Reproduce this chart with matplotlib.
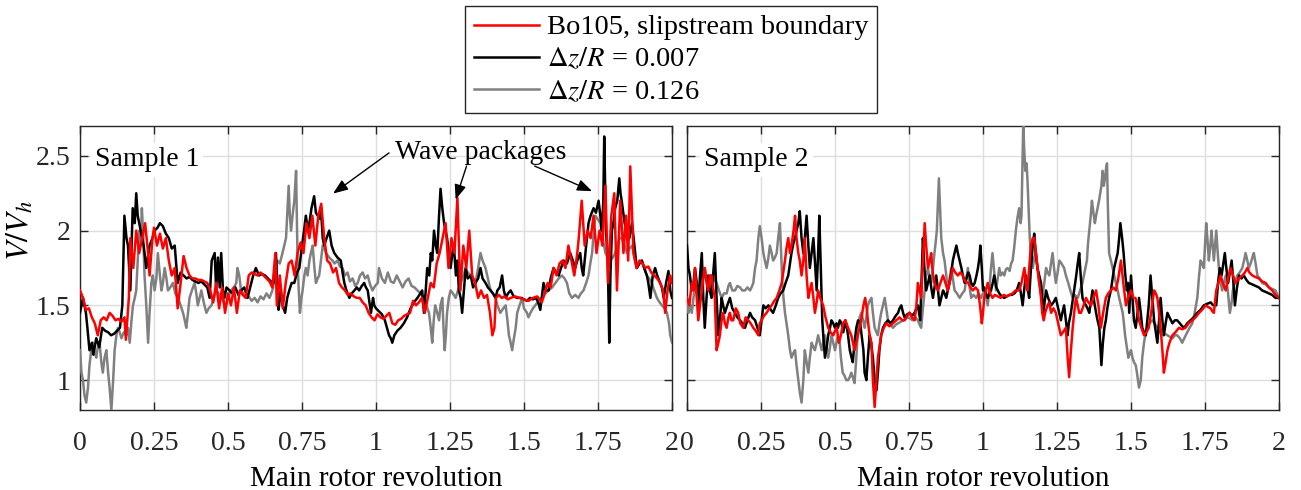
import numpy as np
import matplotlib
matplotlib.use("Agg")
import matplotlib.pyplot as plt

plt.rcParams['font.family'] = ['Liberation Serif', 'DejaVu Serif']
plt.rcParams['mathtext.fontset'] = 'stix'

# ---------------- data: (revolution, V/Vh) ----------------
s1_red = [(0,1.60),(0.01,1.55),(0.02,1.47),(0.03,1.48),(0.04,1.42),(0.05,1.38),(0.06,1.30),(0.07,1.40),(0.08,1.42),(0.09,1.40),(0.10,1.45),(0.11,1.43),(0.12,1.40),(0.13,1.41),(0.14,1.39),(0.15,1.42),(0.155,1.27),(0.165,1.55),(0.17,1.95),(0.18,1.75),(0.19,2.00),(0.20,1.85),(0.21,1.95),(0.22,2.05),(0.23,1.85),(0.235,1.70),(0.245,1.95),(0.25,2.02),(0.26,1.90),(0.27,1.98),(0.28,1.88),(0.29,1.95),(0.30,1.80),(0.31,1.70),(0.32,1.75),(0.33,1.48),(0.34,1.65),(0.35,1.83),(0.36,1.75),(0.37,1.70),(0.38,1.68),(0.39,1.68),(0.40,1.67),(0.41,1.67),(0.42,1.66),(0.43,1.65),(0.44,1.60),(0.45,1.52),(0.46,1.65),(0.47,1.48),(0.48,1.62),(0.49,1.45),(0.50,1.58),(0.51,1.50),(0.52,1.62),(0.53,1.45),(0.54,1.60),(0.55,1.57),(0.56,1.55),(0.57,1.70),(0.58,1.72),(0.59,1.71),(0.60,1.70),(0.61,1.72),(0.62,1.70),(0.63,1.68),(0.64,1.66),(0.65,1.62),(0.66,1.85),(0.665,1.50),(0.675,1.70),(0.685,1.48),(0.695,1.65),(0.705,1.78),(0.715,1.80),(0.725,1.70),(0.735,1.85),(0.745,1.92),(0.755,1.85),(0.765,2.05),(0.775,1.95),(0.785,2.10),(0.795,1.90),(0.805,2.10),(0.815,2.18),(0.825,1.95),(0.835,1.80),(0.845,1.78),(0.855,1.72),(0.865,1.75),(0.875,1.65),(0.885,1.62),(0.895,1.60),(0.905,1.57),(0.915,1.58),(0.925,1.56),(0.935,1.55),(0.945,1.55),(0.955,1.52),(0.965,1.50),(0.975,1.45),(0.985,1.42),(0.995,1.40),(1.005,1.44),(1.015,1.42),(1.025,1.41),(1.035,1.43),(1.045,1.45),(1.055,1.38),(1.065,1.37),(1.075,1.40),(1.085,1.41),(1.095,1.43),(1.105,1.44),(1.115,1.45),(1.125,1.53),(1.135,1.50),(1.145,1.52),(1.155,1.55),(1.165,1.45),(1.175,1.55),(1.185,1.65),(1.195,1.62),(1.205,1.78),(1.215,1.85),(1.225,1.95),(1.235,2.05),(1.245,1.75),(1.255,1.95),(1.265,1.85),(1.275,2.22),(1.285,1.60),(1.295,1.90),(1.305,1.75),(1.315,2.00),(1.325,1.70),(1.335,1.65),(1.345,1.55),(1.355,1.60),(1.365,1.55),(1.375,1.57),(1.385,1.45),(1.393,1.30),(1.40,1.35),(1.405,1.55),(1.415,1.57),(1.425,1.55),(1.435,1.56),(1.445,1.54),(1.455,1.55),(1.47,1.56),(1.485,1.55),(1.50,1.54),(1.515,1.53),(1.53,1.55),(1.545,1.56),(1.56,1.52),(1.57,1.58),(1.58,1.65),(1.59,1.62),(1.60,1.75),(1.61,1.70),(1.62,1.78),(1.63,1.80),(1.64,1.75),(1.65,1.90),(1.66,1.80),(1.67,1.70),(1.68,1.85),(1.685,1.95),(1.695,2.20),(1.705,1.90),(1.715,2.00),(1.725,1.95),(1.735,2.10),(1.745,1.85),(1.755,2.00),(1.765,1.90),(1.775,2.30),(1.784,1.65),(1.795,2.10),(1.805,2.25),(1.814,1.60),(1.825,2.20),(1.836,1.85),(1.845,2.10),(1.852,1.80),(1.859,2.43),(1.87,1.85),(1.88,1.75),(1.89,1.80),(1.90,1.78),(1.91,1.75),(1.92,1.76),(1.93,1.72),(1.94,1.70),(1.95,1.68),(1.96,1.65),(1.97,1.60),(1.977,1.45),(1.985,1.60),(1.994,1.70),(2.00,1.65)]

s1_black = [(0,1.45),(0.01,1.55),(0.02,1.45),(0.025,1.35),(0.032,1.20),(0.04,1.25),(0.045,1.17),(0.055,1.28),(0.065,1.22),(0.075,1.35),(0.085,1.33),(0.095,1.32),(0.105,1.30),(0.115,1.31),(0.125,1.33),(0.135,1.35),(0.143,1.50),(0.15,2.10),(0.157,1.95),(0.162,1.90),(0.17,1.60),(0.178,2.15),(0.185,2.05),(0.19,2.25),(0.195,2.10),(0.20,2.05),(0.21,1.95),(0.215,1.90),(0.224,1.75),(0.235,1.90),(0.245,1.95),(0.252,2.00),(0.262,2.02),(0.27,2.05),(0.28,2.03),(0.29,1.98),(0.30,1.95),(0.31,1.88),(0.32,1.90),(0.33,1.65),(0.34,1.72),(0.35,1.70),(0.36,1.68),(0.37,1.69),(0.38,1.67),(0.39,1.66),(0.40,1.65),(0.41,1.66),(0.42,1.64),(0.43,1.62),(0.438,1.55),(0.445,1.80),(0.455,1.85),(0.46,1.60),(0.466,1.82),(0.472,1.62),(0.477,1.85),(0.483,1.60),(0.488,1.55),(0.495,1.62),(0.505,1.60),(0.515,1.58),(0.525,1.62),(0.535,1.57),(0.545,1.60),(0.555,1.62),(0.566,1.55),(0.575,1.62),(0.585,1.70),(0.594,1.75),(0.605,1.70),(0.615,1.71),(0.625,1.70),(0.635,1.68),(0.645,1.66),(0.655,1.65),(0.662,1.85),(0.668,1.55),(0.671,1.47),(0.678,1.60),(0.685,1.50),(0.693,1.45),(0.70,1.55),(0.707,1.60),(0.715,1.65),(0.724,1.65),(0.733,1.72),(0.741,1.75),(0.75,1.90),(0.757,2.00),(0.763,2.10),(0.77,2.00),(0.775,2.05),(0.782,2.15),(0.791,2.23),(0.797,2.12),(0.803,2.10),(0.81,2.08),(0.814,2.15),(0.82,1.95),(0.825,1.90),(0.833,1.95),(0.842,2.00),(0.85,1.90),(0.859,1.85),(0.87,1.82),(0.881,1.80),(0.887,1.72),(0.893,1.65),(0.90,1.60),(0.91,1.55),(0.918,1.58),(0.927,1.60),(0.935,1.62),(0.943,1.60),(0.952,1.63),(0.96,1.65),(0.966,1.62),(0.972,1.60),(0.978,1.52),(0.983,1.45),(0.99,1.55),(0.994,1.50),(1.00,1.48),(1.01,1.46),(1.02,1.44),(1.03,1.40),(1.037,1.35),(1.044,1.30),(1.05,1.28),(1.055,1.25),(1.062,1.30),(1.072,1.33),(1.083,1.35),(1.094,1.38),(1.105,1.42),(1.117,1.48),(1.128,1.52),(1.14,1.55),(1.15,1.58),(1.156,1.60),(1.162,1.45),(1.168,1.60),(1.173,1.75),(1.18,1.70),(1.185,1.85),(1.19,1.80),(1.196,2.00),(1.202,1.90),(1.207,1.85),(1.213,2.10),(1.218,2.28),(1.224,2.15),(1.23,2.05),(1.235,2.00),(1.24,1.95),(1.246,1.85),(1.252,1.75),(1.258,1.85),(1.263,1.90),(1.27,1.70),(1.275,1.80),(1.28,1.60),(1.286,1.55),(1.291,1.45),(1.297,1.60),(1.303,1.75),(1.31,1.68),(1.32,1.70),(1.328,1.62),(1.336,1.65),(1.345,1.68),(1.353,1.75),(1.36,1.68),(1.37,1.65),(1.378,1.62),(1.387,1.60),(1.395,1.58),(1.404,1.55),(1.41,1.60),(1.418,1.62),(1.426,1.70),(1.432,1.60),(1.438,1.55),(1.446,1.58),(1.455,1.60),(1.465,1.56),(1.477,1.55),(1.49,1.55),(1.50,1.54),(1.51,1.53),(1.52,1.55),(1.53,1.54),(1.54,1.55),(1.548,1.52),(1.555,1.47),(1.56,1.55),(1.566,1.65),(1.573,1.60),(1.583,1.60),(1.59,1.68),(1.60,1.75),(1.608,1.72),(1.617,1.70),(1.625,1.75),(1.634,1.80),(1.645,1.78),(1.656,1.85),(1.665,1.80),(1.673,1.75),(1.68,1.80),(1.69,1.85),(1.695,1.75),(1.70,1.70),(1.71,1.90),(1.718,2.05),(1.725,2.10),(1.735,2.15),(1.743,2.12),(1.752,2.20),(1.758,2.10),(1.763,2.00),(1.768,2.20),(1.771,2.63),(1.774,2.30),(1.777,2.00),(1.783,1.80),(1.788,1.25),(1.792,1.70),(1.797,2.00),(1.802,2.05),(1.808,2.15),(1.815,2.20),(1.822,2.35),(1.826,2.25),(1.83,2.20),(1.84,2.05),(1.848,2.00),(1.856,1.95),(1.865,2.05),(1.873,1.90),(1.881,1.75),(1.89,1.78),(1.898,1.80),(1.906,1.75),(1.915,1.70),(1.92,1.65),(1.927,1.55),(1.935,1.70),(1.943,1.75),(1.95,1.70),(1.96,1.65),(1.966,1.62),(1.972,1.55),(1.98,1.65),(1.988,1.73),(1.994,1.60),(2.00,1.55)]

s1_gray = [(0,1.20),(0.005,1.05),(0.01,1.00),(0.015,0.90),(0.021,0.85),(0.027,0.95),(0.032,1.10),(0.038,1.20),(0.044,1.25),(0.05,1.18),(0.055,1.15),(0.06,1.22),(0.066,1.25),(0.072,1.12),(0.077,1.05),(0.083,1.15),(0.089,1.20),(0.095,1.05),(0.10,0.95),(0.106,0.80),(0.112,1.00),(0.117,1.20),(0.123,1.30),(0.128,1.35),(0.134,1.32),(0.14,1.28),(0.148,1.32),(0.156,1.30),(0.162,1.35),(0.168,1.25),(0.174,1.40),(0.179,1.50),(0.185,1.55),(0.19,1.60),(0.195,1.80),(0.20,2.00),(0.205,1.90),(0.209,2.15),(0.214,1.95),(0.218,1.70),(0.224,1.50),(0.23,1.25),(0.235,1.45),(0.241,1.65),(0.246,1.70),(0.252,1.60),(0.258,1.68),(0.263,1.85),(0.269,1.72),(0.275,1.60),(0.28,1.65),(0.286,1.75),(0.292,1.68),(0.297,1.60),(0.305,1.62),(0.314,1.65),(0.322,1.58),(0.331,1.55),(0.34,1.50),(0.348,1.45),(0.354,1.40),(0.359,1.35),(0.365,1.45),(0.37,1.55),(0.378,1.60),(0.387,1.65),(0.393,1.58),(0.398,1.50),(0.404,1.55),(0.41,1.60),(0.418,1.52),(0.427,1.45),(0.435,1.48),(0.444,1.50),(0.452,1.55),(0.46,1.60),(0.468,1.58),(0.477,1.55),(0.485,1.52),(0.494,1.50),(0.50,1.55),(0.51,1.60),(0.52,1.62),(0.528,1.65),(0.532,1.75),(0.538,1.70),(0.544,1.60),(0.552,1.58),(0.56,1.55),(0.57,1.56),(0.58,1.53),(0.59,1.55),(0.60,1.52),(0.61,1.56),(0.62,1.54),(0.63,1.58),(0.64,1.55),(0.65,1.60),(0.658,1.70),(0.667,1.80),(0.675,1.78),(0.684,1.85),(0.69,1.90),(0.696,1.95),(0.70,2.10),(0.705,2.30),(0.709,2.10),(0.713,2.00),(0.718,2.10),(0.724,2.20),(0.73,2.40),(0.735,1.80),(0.739,1.60),(0.743,1.45),(0.748,1.55),(0.752,1.60),(0.758,1.70),(0.763,1.75),(0.769,1.70),(0.775,1.80),(0.78,1.85),(0.786,1.90),(0.792,1.75),(0.797,1.65),(0.803,1.68),(0.808,1.70),(0.814,1.80),(0.82,1.90),(0.826,1.88),(0.831,1.85),(0.842,1.82),(0.853,1.80),(0.86,1.78),(0.87,1.80),(0.878,1.76),(0.887,1.75),(0.895,1.70),(0.904,1.72),(0.912,1.66),(0.921,1.68),(0.93,1.63),(0.938,1.65),(0.946,1.70),(0.955,1.72),(0.963,1.68),(0.972,1.70),(0.98,1.64),(0.988,1.60),(0.997,1.63),(1.006,1.65),(1.01,1.75),(1.02,1.68),(1.03,1.65),(1.04,1.72),(1.05,1.66),(1.06,1.65),(1.07,1.70),(1.08,1.66),(1.09,1.62),(1.10,1.66),(1.11,1.68),(1.12,1.63),(1.13,1.62),(1.14,1.60),(1.15,1.58),(1.162,1.55),(1.17,1.50),(1.179,1.45),(1.185,1.35),(1.19,1.25),(1.195,1.40),(1.20,1.50),(1.207,1.45),(1.213,1.40),(1.218,1.50),(1.224,1.55),(1.228,1.35),(1.232,1.20),(1.236,1.30),(1.24,1.45),(1.246,1.55),(1.252,1.60),(1.26,1.58),(1.269,1.55),(1.277,1.60),(1.286,1.65),(1.295,1.70),(1.303,1.75),(1.31,1.72),(1.32,1.70),(1.328,1.68),(1.336,1.65),(1.345,1.75),(1.353,1.85),(1.36,1.80),(1.37,1.75),(1.378,1.68),(1.387,1.60),(1.395,1.58),(1.404,1.55),(1.41,1.50),(1.42,1.45),(1.43,1.48),(1.438,1.50),(1.444,1.40),(1.449,1.30),(1.455,1.25),(1.46,1.20),(1.466,1.28),(1.472,1.35),(1.477,1.45),(1.485,1.50),(1.494,1.55),(1.50,1.48),(1.51,1.45),(1.515,1.42),(1.522,1.45),(1.53,1.48),(1.538,1.50),(1.55,1.53),(1.56,1.55),(1.572,1.58),(1.583,1.60),(1.595,1.62),(1.606,1.65),(1.617,1.68),(1.628,1.70),(1.637,1.68),(1.645,1.65),(1.653,1.58),(1.662,1.55),(1.673,1.57),(1.684,1.55),(1.692,1.58),(1.701,1.60),(1.71,1.65),(1.718,1.70),(1.724,1.78),(1.73,1.85),(1.736,2.00),(1.741,2.10),(1.748,2.08),(1.758,2.05),(1.766,1.95),(1.775,1.85),(1.783,1.82),(1.791,1.80),(1.80,1.82),(1.808,1.85),(1.815,1.90),(1.822,1.95),(1.83,1.95),(1.84,1.90),(1.848,1.85),(1.856,1.88),(1.865,1.90),(1.873,1.82),(1.881,1.75),(1.89,1.78),(1.898,1.80),(1.906,1.75),(1.915,1.70),(1.923,1.68),(1.932,1.65),(1.94,1.60),(1.949,1.55),(1.958,1.52),(1.966,1.50),(1.975,1.48),(1.983,1.45),(1.99,1.38),(1.994,1.30),(2.00,1.25)]

s2_red = [(0,1.55),(0.008,1.50),(0.016,1.65),(0.022,1.60),(0.027,1.75),(0.033,1.55),(0.038,1.40),(0.044,1.50),(0.05,1.60),(0.055,1.68),(0.06,1.75),(0.066,1.65),(0.072,1.60),(0.077,1.70),(0.083,1.70),(0.088,1.62),(0.094,1.55),(0.10,1.20),(0.106,1.25),(0.111,1.30),(0.117,1.40),(0.122,1.45),(0.128,1.38),(0.134,1.35),(0.14,1.42),(0.145,1.45),(0.15,1.40),(0.156,1.40),(0.165,1.48),(0.173,1.45),(0.18,1.38),(0.19,1.35),(0.198,1.42),(0.207,1.40),(0.215,1.38),(0.224,1.35),(0.232,1.33),(0.241,1.30),(0.246,1.38),(0.252,1.40),(0.26,1.43),(0.269,1.45),(0.278,1.48),(0.286,1.50),(0.295,1.53),(0.303,1.55),(0.312,1.60),(0.32,1.65),(0.325,1.72),(0.331,1.80),(0.336,1.88),(0.342,1.95),(0.348,1.85),(0.353,1.90),(0.36,2.00),(0.365,2.10),(0.37,1.95),(0.376,1.85),(0.381,1.80),(0.387,1.70),(0.393,1.80),(0.398,1.95),(0.404,1.70),(0.41,1.55),(0.415,1.60),(0.421,1.65),(0.427,1.55),(0.432,1.45),(0.438,1.52),(0.443,1.60),(0.45,1.55),(0.46,1.50),(0.468,1.42),(0.477,1.35),(0.485,1.32),(0.494,1.30),(0.50,1.33),(0.506,1.35),(0.513,1.25),(0.52,1.30),(0.527,1.38),(0.535,1.40),(0.544,1.35),(0.555,1.30),(0.566,1.20),(0.575,1.28),(0.583,1.35),(0.59,1.42),(0.596,1.50),(0.602,1.55),(0.607,1.48),(0.611,1.40),(0.617,1.30),(0.623,1.25),(0.628,1.00),(0.634,0.82),(0.64,1.00),(0.645,1.15),(0.65,1.22),(0.656,1.30),(0.665,1.35),(0.673,1.38),(0.684,1.36),(0.696,1.38),(0.707,1.40),(0.718,1.42),(0.727,1.40),(0.735,1.40),(0.744,1.43),(0.752,1.45),(0.76,1.42),(0.769,1.40),(0.775,1.50),(0.78,1.65),(0.786,1.60),(0.791,1.55),(0.797,1.80),(0.803,2.05),(0.808,1.90),(0.814,1.75),(0.82,1.80),(0.825,1.85),(0.83,1.72),(0.836,1.65),(0.842,1.62),(0.848,1.60),(0.856,1.65),(0.865,1.70),(0.873,1.65),(0.881,1.60),(0.89,1.68),(0.898,1.75),(0.906,1.72),(0.915,1.70),(0.923,1.72),(0.932,1.70),(0.94,1.66),(0.95,1.65),(0.958,1.62),(0.966,1.60),(0.975,1.62),(0.983,1.60),(0.99,1.50),(0.996,1.38),(1.00,1.45),(1.004,1.55),(1.01,1.60),(1.016,1.65),(1.024,1.58),(1.032,1.55),(1.04,1.57),(1.05,1.56),(1.06,1.55),(1.07,1.57),(1.08,1.56),(1.09,1.57),(1.10,1.58),(1.11,1.60),(1.122,1.60),(1.13,1.65),(1.14,1.75),(1.145,1.65),(1.15,1.60),(1.156,1.75),(1.162,1.90),(1.168,1.95),(1.173,1.95),(1.179,1.85),(1.184,1.75),(1.19,1.65),(1.196,1.55),(1.20,1.45),(1.205,1.40),(1.21,1.45),(1.218,1.50),(1.224,1.52),(1.23,1.45),(1.238,1.48),(1.246,1.45),(1.254,1.38),(1.263,1.30),(1.27,1.32),(1.28,1.35),(1.286,1.15),(1.291,1.02),(1.297,1.20),(1.303,1.35),(1.308,1.45),(1.314,1.55),(1.32,1.50),(1.325,1.45),(1.331,1.45),(1.34,1.50),(1.348,1.55),(1.356,1.52),(1.365,1.50),(1.373,1.55),(1.382,1.60),(1.39,1.50),(1.398,1.35),(1.406,1.45),(1.415,1.55),(1.423,1.58),(1.432,1.60),(1.44,1.62),(1.449,1.60),(1.457,1.68),(1.466,1.80),(1.474,1.65),(1.483,1.50),(1.49,1.55),(1.50,1.60),(1.508,1.55),(1.515,1.55),(1.52,1.50),(1.527,1.40),(1.535,1.35),(1.544,1.30),(1.552,1.32),(1.56,1.35),(1.568,1.45),(1.578,1.60),(1.584,1.58),(1.589,1.55),(1.595,1.45),(1.60,1.35),(1.606,1.20),(1.611,1.05),(1.617,1.12),(1.623,1.20),(1.63,1.25),(1.64,1.30),(1.65,1.32),(1.662,1.35),(1.673,1.34),(1.684,1.35),(1.695,1.38),(1.707,1.40),(1.718,1.42),(1.73,1.45),(1.74,1.47),(1.752,1.50),(1.76,1.49),(1.769,1.48),(1.775,1.46),(1.78,1.45),(1.788,1.60),(1.795,1.65),(1.803,1.70),(1.81,1.65),(1.82,1.60),(1.828,1.68),(1.836,1.75),(1.845,1.70),(1.853,1.65),(1.865,1.68),(1.876,1.70),(1.885,1.72),(1.893,1.75),(1.90,1.72),(1.91,1.70),(1.92,1.69),(1.932,1.68),(1.943,1.66),(1.955,1.65),(1.966,1.62),(1.977,1.60),(1.988,1.57),(2.00,1.55)]

s2_black = [(0,1.90),(0.005,1.75),(0.01,1.70),(0.016,1.60),(0.022,1.65),(0.027,1.75),(0.033,1.65),(0.038,1.50),(0.044,1.70),(0.05,1.85),(0.055,1.55),(0.06,1.35),(0.066,1.55),(0.072,1.70),(0.077,1.60),(0.083,1.55),(0.088,1.70),(0.094,1.85),(0.10,1.55),(0.106,1.30),(0.111,1.40),(0.117,1.55),(0.122,1.50),(0.128,1.45),(0.136,1.50),(0.145,1.55),(0.153,1.48),(0.162,1.45),(0.17,1.42),(0.179,1.40),(0.187,1.38),(0.196,1.35),(0.204,1.40),(0.213,1.45),(0.22,1.42),(0.23,1.40),(0.238,1.35),(0.246,1.30),(0.252,1.40),(0.258,1.50),(0.266,1.48),(0.275,1.50),(0.283,1.47),(0.291,1.45),(0.3,1.50),(0.308,1.55),(0.316,1.58),(0.325,1.60),(0.333,1.65),(0.342,1.70),(0.348,1.78),(0.353,1.85),(0.36,1.92),(0.365,1.95),(0.37,2.00),(0.376,2.05),(0.381,2.13),(0.387,1.95),(0.393,1.85),(0.398,1.95),(0.404,2.10),(0.41,1.90),(0.415,1.75),(0.421,1.85),(0.427,1.95),(0.432,1.80),(0.438,1.60),(0.443,1.85),(0.447,2.10),(0.452,1.75),(0.457,1.40),(0.462,1.25),(0.466,1.15),(0.472,1.22),(0.477,1.30),(0.483,1.35),(0.488,1.40),(0.494,1.38),(0.50,1.35),(0.505,1.38),(0.51,1.35),(0.516,1.40),(0.522,1.38),(0.528,1.32),(0.535,1.40),(0.54,1.35),(0.544,1.30),(0.55,1.20),(0.556,1.15),(0.56,1.12),(0.566,1.25),(0.572,1.35),(0.578,1.40),(0.585,1.38),(0.59,1.30),(0.596,1.20),(0.60,1.05),(0.606,1.00),(0.611,1.15),(0.617,1.30),(0.622,1.25),(0.628,1.15),(0.634,1.00),(0.64,0.93),(0.645,1.05),(0.65,1.20),(0.656,1.30),(0.662,1.35),(0.67,1.38),(0.679,1.40),(0.688,1.38),(0.696,1.40),(0.705,1.43),(0.713,1.45),(0.718,1.48),(0.724,1.50),(0.73,1.45),(0.735,1.42),(0.744,1.44),(0.752,1.45),(0.76,1.43),(0.769,1.45),(0.775,1.48),(0.78,1.50),(0.784,1.45),(0.788,1.40),(0.793,1.70),(0.797,1.95),(0.802,1.75),(0.808,1.60),(0.814,1.65),(0.82,1.70),(0.825,1.62),(0.831,1.55),(0.836,1.62),(0.842,1.70),(0.848,1.60),(0.853,1.50),(0.859,1.55),(0.865,1.60),(0.87,1.58),(0.876,1.55),(0.881,1.60),(0.887,1.65),(0.893,1.72),(0.898,1.80),(0.904,1.85),(0.91,1.90),(0.915,1.85),(0.921,1.80),(0.927,1.75),(0.932,1.70),(0.938,1.65),(0.944,1.68),(0.95,1.72),(0.955,1.70),(0.96,1.65),(0.966,1.63),(0.972,1.65),(0.978,1.70),(0.983,1.75),(0.988,1.82),(0.991,1.90),(0.996,1.75),(1.00,1.60),(1.004,1.62),(1.01,1.58),(1.016,1.55),(1.022,1.58),(1.027,1.60),(1.033,1.65),(1.038,1.70),(1.045,1.62),(1.055,1.58),(1.063,1.56),(1.072,1.55),(1.08,1.56),(1.089,1.57),(1.097,1.57),(1.106,1.58),(1.114,1.60),(1.122,1.65),(1.128,1.58),(1.134,1.50),(1.14,1.62),(1.145,1.70),(1.15,1.62),(1.156,1.55),(1.162,1.75),(1.168,1.90),(1.173,1.98),(1.178,1.85),(1.184,1.75),(1.19,1.70),(1.196,1.65),(1.2,1.55),(1.204,1.45),(1.208,1.52),(1.213,1.60),(1.22,1.55),(1.23,1.50),(1.238,1.52),(1.246,1.55),(1.254,1.48),(1.263,1.40),(1.268,1.45),(1.274,1.50),(1.28,1.40),(1.286,1.30),(1.29,1.38),(1.297,1.45),(1.302,1.52),(1.308,1.60),(1.315,1.70),(1.32,1.78),(1.325,1.85),(1.33,1.70),(1.336,1.55),(1.342,1.52),(1.348,1.50),(1.353,1.48),(1.359,1.45),(1.364,1.52),(1.37,1.60),(1.376,1.52),(1.382,1.45),(1.387,1.40),(1.393,1.35),(1.397,1.20),(1.40,1.10),(1.405,1.25),(1.41,1.35),(1.415,1.40),(1.42,1.48),(1.426,1.55),(1.432,1.60),(1.438,1.68),(1.443,1.75),(1.449,1.80),(1.455,1.85),(1.46,1.95),(1.464,2.05),(1.47,1.95),(1.475,1.85),(1.48,1.72),(1.486,1.60),(1.49,1.65),(1.494,1.45),(1.50,1.70),(1.505,1.55),(1.51,1.40),(1.516,1.35),(1.522,1.45),(1.527,1.55),(1.533,1.45),(1.538,1.35),(1.544,1.32),(1.55,1.30),(1.555,1.40),(1.56,1.50),(1.566,1.70),(1.572,1.55),(1.578,1.40),(1.584,1.32),(1.589,1.25),(1.595,1.40),(1.60,1.55),(1.606,1.40),(1.611,1.30),(1.617,1.38),(1.623,1.45),(1.63,1.42),(1.64,1.38),(1.648,1.40),(1.656,1.40),(1.665,1.38),(1.673,1.36),(1.68,1.35),(1.69,1.38),(1.701,1.40),(1.712,1.42),(1.724,1.45),(1.735,1.47),(1.746,1.50),(1.757,1.51),(1.769,1.52),(1.778,1.50),(1.788,1.50),(1.794,1.65),(1.80,1.75),(1.806,1.70),(1.812,1.78),(1.817,1.85),(1.822,1.75),(1.828,1.65),(1.834,1.72),(1.84,1.80),(1.846,1.65),(1.851,1.50),(1.858,1.62),(1.865,1.70),(1.873,1.68),(1.881,1.70),(1.89,1.67),(1.898,1.65),(1.91,1.64),(1.921,1.63),(1.932,1.62),(1.943,1.60),(1.955,1.59),(1.966,1.58),(1.977,1.57),(1.988,1.55),(2.00,1.55)]

s2_gray = [(0,1.55),(0.005,1.45),(0.01,1.50),(0.016,1.45),(0.022,1.55),(0.027,1.65),(0.033,1.58),(0.038,1.50),(0.044,1.62),(0.05,1.70),(0.055,1.72),(0.06,1.75),(0.066,1.68),(0.072,1.60),(0.077,1.65),(0.083,1.70),(0.09,1.68),(0.10,1.65),(0.108,1.60),(0.117,1.55),(0.125,1.58),(0.134,1.58),(0.14,1.63),(0.145,1.65),(0.153,1.60),(0.162,1.60),(0.17,1.63),(0.179,1.62),(0.187,1.60),(0.196,1.60),(0.204,1.62),(0.213,1.60),(0.218,1.62),(0.224,1.65),(0.23,1.75),(0.235,1.80),(0.241,1.95),(0.246,2.03),(0.252,1.95),(0.258,1.85),(0.263,1.80),(0.269,1.75),(0.275,1.82),(0.28,1.90),(0.286,1.85),(0.291,1.80),(0.297,1.82),(0.303,1.85),(0.308,1.95),(0.314,2.05),(0.318,1.85),(0.322,1.65),(0.326,1.55),(0.331,1.45),(0.336,1.38),(0.342,1.30),(0.348,1.20),(0.353,1.15),(0.359,1.18),(0.365,1.20),(0.37,1.10),(0.376,1.00),(0.381,0.92),(0.387,0.85),(0.393,1.00),(0.398,1.20),(0.404,1.12),(0.41,1.05),(0.415,1.15),(0.421,1.25),(0.427,1.22),(0.432,1.20),(0.438,1.25),(0.443,1.30),(0.449,1.25),(0.455,1.20),(0.46,1.25),(0.466,1.30),(0.472,1.22),(0.477,1.15),(0.483,1.22),(0.488,1.30),(0.494,1.25),(0.50,1.20),(0.505,1.25),(0.51,1.30),(0.516,1.25),(0.52,1.15),(0.526,1.05),(0.532,1.03),(0.538,1.00),(0.544,1.00),(0.55,1.02),(0.555,1.05),(0.56,1.02),(0.566,0.98),(0.572,1.15),(0.578,1.35),(0.583,1.42),(0.589,1.45),(0.595,1.40),(0.60,1.35),(0.606,1.42),(0.611,1.50),(0.617,1.53),(0.623,1.55),(0.628,1.45),(0.634,1.35),(0.64,1.32),(0.645,1.30),(0.65,1.38),(0.656,1.45),(0.662,1.50),(0.668,1.55),(0.673,1.48),(0.679,1.40),(0.688,1.37),(0.696,1.35),(0.705,1.37),(0.713,1.38),(0.722,1.39),(0.73,1.40),(0.738,1.41),(0.746,1.42),(0.755,1.41),(0.763,1.40),(0.772,1.42),(0.78,1.40),(0.786,1.37),(0.791,1.35),(0.797,1.48),(0.803,1.60),(0.808,1.70),(0.814,1.75),(0.82,1.68),(0.825,1.65),(0.831,1.75),(0.836,1.85),(0.84,1.92),(0.844,2.00),(0.848,2.20),(0.851,2.35),(0.855,2.15),(0.859,1.95),(0.865,1.85),(0.87,1.80),(0.876,1.70),(0.881,1.60),(0.887,1.68),(0.893,1.75),(0.898,1.68),(0.904,1.60),(0.912,1.58),(0.921,1.55),(0.93,1.58),(0.938,1.60),(0.944,1.68),(0.949,1.75),(0.955,1.62),(0.96,1.55),(0.968,1.57),(0.977,1.55),(0.985,1.58),(0.994,1.55),(1.00,1.58),(1.006,1.60),(1.011,1.55),(1.016,1.50),(1.022,1.62),(1.027,1.75),(1.032,1.85),(1.038,1.72),(1.044,1.60),(1.05,1.68),(1.055,1.75),(1.06,1.70),(1.066,1.72),(1.072,1.70),(1.077,1.74),(1.083,1.75),(1.09,1.73),(1.095,1.78),(1.10,1.80),(1.105,1.88),(1.111,2.00),(1.116,2.08),(1.122,2.15),(1.127,2.05),(1.13,2.10),(1.133,2.40),(1.136,2.72),(1.139,2.55),(1.143,2.40),(1.147,2.45),(1.15,2.35),(1.154,2.15),(1.158,1.95),(1.163,1.80),(1.168,1.75),(1.173,1.82),(1.179,1.85),(1.184,1.75),(1.19,1.65),(1.195,1.60),(1.20,1.55),(1.207,1.65),(1.213,1.75),(1.218,1.72),(1.224,1.70),(1.23,1.78),(1.235,1.85),(1.24,1.75),(1.246,1.65),(1.252,1.72),(1.258,1.80),(1.265,1.78),(1.274,1.75),(1.28,1.70),(1.288,1.65),(1.295,1.60),(1.303,1.55),(1.31,1.57),(1.32,1.55),(1.328,1.60),(1.336,1.65),(1.343,1.72),(1.351,1.80),(1.355,1.92),(1.359,2.00),(1.364,2.10),(1.368,2.20),(1.373,2.12),(1.378,2.05),(1.382,2.10),(1.387,2.15),(1.392,2.20),(1.396,2.25),(1.40,2.30),(1.404,2.40),(1.408,2.30),(1.412,2.35),(1.416,2.42),(1.419,2.45),(1.422,2.15),(1.426,1.85),(1.432,1.80),(1.438,1.75),(1.443,1.70),(1.449,1.65),(1.455,1.60),(1.46,1.55),(1.466,1.50),(1.472,1.45),(1.476,1.38),(1.48,1.30),(1.486,1.22),(1.491,1.15),(1.496,1.18),(1.50,1.20),(1.505,1.15),(1.51,1.12),(1.516,1.10),(1.52,1.05),(1.527,0.95),(1.533,1.00),(1.538,1.15),(1.544,1.25),(1.55,1.32),(1.555,1.35),(1.562,1.38),(1.572,1.40),(1.58,1.38),(1.589,1.35),(1.597,1.32),(1.606,1.30),(1.614,1.31),(1.623,1.30),(1.631,1.29),(1.64,1.28),(1.648,1.30),(1.656,1.30),(1.665,1.28),(1.673,1.25),(1.68,1.28),(1.69,1.32),(1.698,1.35),(1.707,1.38),(1.715,1.45),(1.724,1.55),(1.73,1.70),(1.735,1.80),(1.74,1.78),(1.746,1.75),(1.75,1.90),(1.754,2.05),(1.758,1.95),(1.763,1.80),(1.768,1.90),(1.772,2.00),(1.776,1.90),(1.78,1.80),(1.784,1.90),(1.788,2.00),(1.793,1.85),(1.797,1.75),(1.803,1.65),(1.808,1.60),(1.814,1.65),(1.82,1.70),(1.827,1.60),(1.834,1.45),(1.84,1.52),(1.844,1.60),(1.85,1.65),(1.859,1.70),(1.867,1.72),(1.876,1.75),(1.882,1.80),(1.887,1.85),(1.893,1.80),(1.898,1.75),(1.904,1.78),(1.91,1.82),(1.915,1.85),(1.921,1.78),(1.927,1.70),(1.935,1.68),(1.943,1.65),(1.955,1.64),(1.966,1.62),(1.977,1.61),(1.988,1.60),(2.00,1.55)]

series_labels = ["Bo105, slipstream boundary", r"$\Delta z/R$ = 0.007", r"$\Delta z/R$ = 0.126"]
series_colors = ["#ff0000", "#000000", "#808080"]
sample_titles = ["Sample 1", "Sample 2"]
xticks = [0, 0.25, 0.5, 0.75, 1, 1.25, 1.5, 1.75, 2]
xticklabels = ["0", "0.25", "0.5", "0.75", "1", "1.25", "1.5", "1.75", "2"]
yticks = [1, 1.5, 2, 2.5]
yticklabels = ["1", "1.5", "2", "2.5"]

# ---------------- figure ----------------
W, H = 1301, 490
fig = plt.figure(figsize=(W / 100, H / 100), dpi=100)
ax1 = fig.add_axes([80 / W, 1 - 410 / H, 592 / W, 284 / H])
ax2 = fig.add_axes([687 / W, 1 - 410 / H, 592 / W, 284 / H])

FS = 20
for ax, data, title in [(ax1, (s1_red, s1_black, s1_gray), sample_titles[0]),
                        (ax2, (s2_red, s2_black, s2_gray), sample_titles[1])]:
    # draw gray first, then black, then red on top
    for idx in [2, 1, 0]:
        arr = np.array(data[idx])
        ax.plot(arr[:, 0], arr[:, 1], color=series_colors[idx], lw=1.8,
                label=series_labels[idx], zorder=3 + (2 - idx))
    ax.set_xlim(0, 2)
    ax.set_ylim(0.8, 2.7)
    ax.set_xticks(xticks)
    ax.set_xticklabels(xticklabels)
    ax.set_yticks(yticks)
    ax.grid(True, color="#dedede", lw=1.0, zorder=0)
    ax.set_axisbelow(True)
    ax.tick_params(direction="in", length=6, width=1, top=True, right=True,
                   labelsize=FS, colors="#262626")
    ax.tick_params(axis="x", pad=15)
    ax.tick_params(axis="y", pad=7)
    for sp in ax.spines.values():
        sp.set_color("#262626")
        sp.set_linewidth(1.0)
    ax.set_xlabel("Main rotor revolution", fontsize=FS + 1, labelpad=7)
    ax.text(0.05 if ax is ax1 else 0.057, 2.43, title, fontsize=FS, ha="left",
            va="baseline", zorder=10,
            bbox=dict(facecolor="white", edgecolor="none", pad=3))

ax1.set_yticklabels(yticklabels)
ax2.set_yticklabels([])
ax1.set_ylabel(r"$V/V_h$", fontsize=FS + 3)
ax1.yaxis.set_label_coords(-0.075, 0.63)

# annotations
ax1.text(1.064, 2.477, "Wave packages", fontsize=FS, ha="left", va="baseline", zorder=10)
arrow_tails = [(1.044, 2.52), (1.306, 2.432), (1.536, 2.432)]
arrow_heads = [(0.855, 2.248), (1.269, 2.208), (1.73, 2.264)]
for (tx, ty), (hx, hy) in zip(arrow_tails, arrow_heads):
    ax1.annotate("", xy=(hx, hy), xytext=(tx, ty), zorder=11,
                 arrowprops=dict(arrowstyle="-|>,head_length=0.9,head_width=0.35",
                                 color="black", lw=1.0, shrinkA=0, shrinkB=0))

# legend (order: red, black, gray)
handles, labels = ax1.get_legend_handles_labels()
order = [labels.index(l) for l in series_labels]
leg = fig.legend([handles[i] for i in order], [labels[i] for i in order],
                 loc="upper center", bbox_to_anchor=(671 / W, 1 - 6 / H),
                 fontsize=FS + 0.5, frameon=True, fancybox=False, shadow=False,
                 edgecolor="#262626", framealpha=1, handlelength=2.3,
                 handletextpad=0.25, labelspacing=0.22, borderpad=0.3,
                 borderaxespad=0)
leg.get_frame().set_linewidth(1.0)

fig.savefig("out.png", dpi=100)
